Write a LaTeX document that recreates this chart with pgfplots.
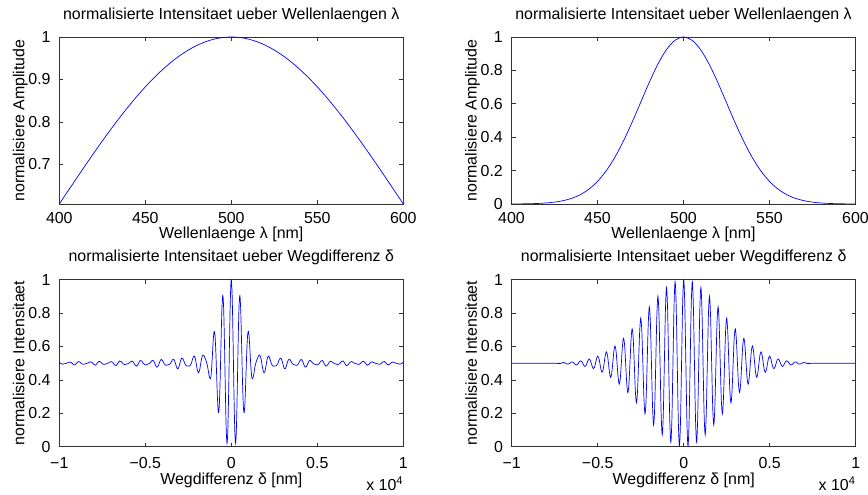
\documentclass[border=0pt]{standalone}
\usepackage{fontspec}
\setmainfont{Liberation Sans}
\usepackage{pgfplots}
\usepackage{pgfplotstable}
\pgfplotsset{compat=1.18}

\pgfplotstableread{
l S
400 0.6065
405 0.6368
410 0.6670
415 0.6968
420 0.7261
425 0.7549
430 0.7827
435 0.8096
440 0.8353
445 0.8596
450 0.8825
455 0.9037
460 0.9231
465 0.9406
470 0.9560
475 0.9692
480 0.9802
485 0.9888
490 0.9950
495 0.9988
500 1.0000
505 0.9988
510 0.9950
515 0.9888
520 0.9802
525 0.9692
530 0.9560
535 0.9406
540 0.9231
545 0.9037
550 0.8825
555 0.8596
560 0.8353
565 0.8096
570 0.7827
575 0.7549
580 0.7261
585 0.6968
590 0.6670
595 0.6368
600 0.6065
}\tla

\pgfplotstableread{
l S
400 0.0003
405 0.0007
410 0.0015
415 0.0031
420 0.0060
425 0.0111
430 0.0198
435 0.0340
440 0.0561
445 0.0889
450 0.1353
455 0.1979
460 0.2780
465 0.3753
470 0.4868
475 0.6065
480 0.7261
485 0.8353
490 0.9231
495 0.9802
500 1.0000
505 0.9802
510 0.9231
515 0.8353
520 0.7261
525 0.6065
530 0.4868
535 0.3753
540 0.2780
545 0.1979
550 0.1353
555 0.0889
560 0.0561
565 0.0340
570 0.0198
575 0.0111
580 0.0060
585 0.0031
590 0.0015
595 0.0007
600 0.0003
}\tra

\pgfplotstableread{
d I
-10000 0.5063
-9900 0.4975
-9800 0.4943
-9700 0.4966
-9600 0.4991
-9500 0.5028
-9400 0.5071
-9300 0.5042
-9200 0.4935
-9100 0.4894
-9000 0.4994
-8900 0.5100
-8800 0.5071
-8700 0.4973
-8600 0.4936
-8500 0.4960
-8400 0.4988
-8300 0.5031
-8200 0.5083
-8100 0.5049
-8000 0.4926
-7900 0.4878
-7800 0.4992
-7700 0.5115
-7600 0.5083
-7500 0.4970
-7400 0.4927
-7300 0.4953
-7200 0.4983
-7100 0.5035
-7000 0.5098
-6900 0.5060
-6800 0.4913
-6700 0.4854
-6600 0.4989
-6500 0.5134
-6400 0.5099
-6300 0.4967
-6200 0.4915
-6100 0.4942
-6000 0.4976
-5900 0.5041
-5800 0.5121
-5700 0.5076
-5600 0.4895
-5500 0.4821
-5400 0.4984
-5300 0.5163
-5200 0.5123
-5100 0.4964
-5000 0.4899
-4950 0.4908
-4900 0.4925
-4850 0.4942
-4800 0.4962
-4750 0.4996
-4700 0.5048
-4650 0.5111
-4600 0.5158
-4550 0.5161
-4500 0.5103
-4450 0.4993
-4400 0.4868
-4350 0.4779
-4300 0.4767
-4250 0.4840
-4200 0.4973
-4150 0.5113
-4100 0.5206
-4050 0.5221
-4000 0.5162
-3950 0.5062
-3900 0.4964
-3850 0.4900
-3800 0.4876
-3750 0.4881
-3700 0.4895
-3650 0.4910
-3600 0.4933
-3550 0.4979
-3500 0.5058
-3450 0.5152
-3400 0.5226
-3350 0.5236
-3300 0.5157
-3250 0.5002
-3200 0.4822
-3150 0.4691
-3100 0.4666
-3050 0.4764
-3000 0.4947
-2950 0.5144
-2900 0.5279
-2850 0.5308
-2800 0.5236
-2750 0.5106
-2700 0.4976
-2650 0.4886
-2600 0.4844
-2550 0.4832
-2500 0.4827
-2450 0.4826
-2400 0.4848
-2350 0.4924
-2300 0.5066
-2250 0.5243
-2200 0.5389
-2150 0.5424
-2100 0.5304
-2050 0.5046
-2000 0.4738
-1950 0.4497
-1900 0.4425
-1850 0.4553
-1800 0.4830
-1750 0.5144
-1700 0.5386
-1650 0.5490
-1600 0.5463
-1550 0.5360
-1500 0.5233
-1450 0.5095
-1400 0.4907
-1350 0.4632
-1300 0.4291
-1250 0.4100
-1200 0.4110
-1150 0.4598
-1100 0.5464
-1050 0.6375
-1000 0.6900
-950 0.6699
-900 0.5711
-850 0.4227
-800 0.2795
-750 0.2050
-700 0.2427
-650 0.3946
-600 0.6123
-550 0.8115
-500 0.9050
-450 0.8438
-400 0.6367
-350 0.3586
-300 0.1198
-250 0.0200
-200 0.1064
-150 0.3478
-100 0.6536
-50 0.9041
0 1.0000
50 0.9041
100 0.6536
150 0.3478
200 0.1064
250 0.0200
300 0.1198
350 0.3586
400 0.6367
450 0.8438
500 0.9050
550 0.8115
600 0.6123
650 0.3946
700 0.2427
750 0.2050
800 0.2795
850 0.4227
900 0.5711
950 0.6699
1000 0.6900
1050 0.6375
1100 0.5464
1150 0.4598
1200 0.4110
1250 0.4100
1300 0.4291
1350 0.4632
1400 0.4907
1450 0.5095
1500 0.5233
1550 0.5360
1600 0.5463
1650 0.5490
1700 0.5386
1750 0.5144
1800 0.4830
1850 0.4553
1900 0.4425
1950 0.4497
2000 0.4738
2050 0.5046
2100 0.5304
2150 0.5424
2200 0.5389
2250 0.5243
2300 0.5066
2350 0.4924
2400 0.4848
2450 0.4826
2500 0.4827
2550 0.4832
2600 0.4844
2650 0.4886
2700 0.4976
2750 0.5106
2800 0.5236
2850 0.5308
2900 0.5279
2950 0.5144
3000 0.4947
3050 0.4764
3100 0.4666
3150 0.4691
3200 0.4822
3250 0.5002
3300 0.5157
3350 0.5236
3400 0.5226
3450 0.5152
3500 0.5058
3550 0.4979
3600 0.4933
3650 0.4910
3700 0.4895
3750 0.4881
3800 0.4876
3850 0.4900
3900 0.4964
3950 0.5062
4000 0.5162
4050 0.5221
4100 0.5206
4150 0.5113
4200 0.4973
4250 0.4840
4300 0.4767
4350 0.4779
4400 0.4868
4450 0.4993
4500 0.5103
4550 0.5161
4600 0.5158
4650 0.5111
4700 0.5048
4750 0.4996
4800 0.4962
4850 0.4942
4900 0.4925
4950 0.4908
5000 0.4899
5100 0.4964
5200 0.5123
5300 0.5163
5400 0.4984
5500 0.4821
5600 0.4895
5700 0.5076
5800 0.5121
5900 0.5041
6000 0.4976
6100 0.4942
6200 0.4915
6300 0.4967
6400 0.5099
6500 0.5134
6600 0.4989
6700 0.4854
6800 0.4913
6900 0.5060
7000 0.5098
7100 0.5035
7200 0.4983
7300 0.4953
7400 0.4927
7500 0.4970
7600 0.5083
7700 0.5115
7800 0.4992
7900 0.4878
8000 0.4926
8100 0.5049
8200 0.5083
8300 0.5031
8400 0.4988
8500 0.4960
8600 0.4936
8700 0.4973
8800 0.5071
8900 0.5100
9000 0.4994
9100 0.4894
9200 0.4935
9300 0.5042
9400 0.5071
9500 0.5028
9600 0.4991
9700 0.4966
9800 0.4943
9900 0.4975
10000 0.5063
}\blt

\pgfplotstableread{
d I
-10000 0.5000
-7375 0.5000
-7312.5 0.4982
-7250 0.4972
-7187.5 0.4978
-7125 0.5000
-7062.5 0.5026
-7000 0.5040
-6937.5 0.5031
-6875 0.5000
-6812.5 0.4964
-6750 0.4944
-6687.5 0.4957
-6625 0.5000
-6562.5 0.5051
-6500 0.5078
-6437.5 0.5059
-6375 0.5000
-6312.5 0.4930
-6250 0.4894
-6187.5 0.4919
-6125 0.5000
-6062.5 0.5094
-6000 0.5144
-5937.5 0.5109
-5875 0.5000
-5812.5 0.4874
-5750 0.4808
-5687.5 0.4854
-5625 0.5000
-5562.5 0.5167
-5500 0.5253
-5437.5 0.5192
-5375 0.5000
-5312.5 0.4781
-5250 0.4670
-5187.5 0.4751
-5125 0.5000
-5062.5 0.5283
-5000 0.5425
-4937.5 0.5320
-4875 0.5000
-4812.5 0.4640
-4750 0.4459
-4687.5 0.4595
-4625 0.5000
-4562.5 0.5454
-4500 0.5679
-4437.5 0.5507
-4375 0.5000
-4312.5 0.4435
-4250 0.4157
-4187.5 0.4372
-4125 0.5000
-4062.5 0.5695
-4000 0.6033
-3937.5 0.5767
-3875 0.5000
-3812.5 0.4156
-3750 0.3750
-3687.5 0.4075
-3625 0.5000
-3562.5 0.6012
-3500 0.6494
-3437.5 0.6103
-3375 0.5000
-3312.5 0.3802
-3250 0.3235
-3187.5 0.3702
-3125 0.5000
-3062.5 0.6402
-3000 0.7058
-2937.5 0.6510
-2875 0.5000
-2812.5 0.3379
-2750 0.2628
-2687.5 0.3265
-2625 0.5000
-2562.5 0.6851
-2500 0.7700
-2437.5 0.6968
-2375 0.5000
-2312.5 0.2913
-2250 0.1965
-2187.5 0.2794
-2125 0.5000
-2062.5 0.7325
-2000 0.8370
-1937.5 0.7442
-1875 0.5000
-1812.5 0.2443
-1750 0.1303
-1687.5 0.2330
-1625 0.5000
-1562.5 0.7779
-1500 0.9006
-1437.5 0.7884
-1375 0.5000
-1312.5 0.2017
-1250 0.0714
-1187.5 0.1923
-1125 0.5000
-1062.5 0.8163
-1000 0.9531
-937.5 0.8242
-875 0.5000
-812.5 0.1687
-750 0.0270
-687.5 0.1625
-625 0.5000
-562.5 0.8427
-500 0.9879
-437.5 0.8469
-375 0.5000
-312.5 0.1498
-250 0.0031
-187.5 0.1477
-125 0.5000
-62.5 0.8534
0 1.0000
62.5 0.8534
125 0.5000
187.5 0.1477
250 0.0031
312.5 0.1498
375 0.5000
437.5 0.8469
500 0.9879
562.5 0.8427
625 0.5000
687.5 0.1625
750 0.0270
812.5 0.1687
875 0.5000
937.5 0.8242
1000 0.9531
1062.5 0.8163
1125 0.5000
1187.5 0.1923
1250 0.0714
1312.5 0.2017
1375 0.5000
1437.5 0.7884
1500 0.9006
1562.5 0.7779
1625 0.5000
1687.5 0.2330
1750 0.1303
1812.5 0.2443
1875 0.5000
1937.5 0.7442
2000 0.8370
2062.5 0.7325
2125 0.5000
2187.5 0.2794
2250 0.1965
2312.5 0.2913
2375 0.5000
2437.5 0.6968
2500 0.7700
2562.5 0.6851
2625 0.5000
2687.5 0.3265
2750 0.2628
2812.5 0.3379
2875 0.5000
2937.5 0.6510
3000 0.7058
3062.5 0.6402
3125 0.5000
3187.5 0.3702
3250 0.3235
3312.5 0.3802
3375 0.5000
3437.5 0.6103
3500 0.6494
3562.5 0.6012
3625 0.5000
3687.5 0.4075
3750 0.3750
3812.5 0.4156
3875 0.5000
3937.5 0.5767
4000 0.6033
4062.5 0.5695
4125 0.5000
4187.5 0.4372
4250 0.4157
4312.5 0.4435
4375 0.5000
4437.5 0.5507
4500 0.5679
4562.5 0.5454
4625 0.5000
4687.5 0.4595
4750 0.4459
4812.5 0.4640
4875 0.5000
4937.5 0.5320
5000 0.5425
5062.5 0.5283
5125 0.5000
5187.5 0.4751
5250 0.4670
5312.5 0.4781
5375 0.5000
5437.5 0.5192
5500 0.5253
5562.5 0.5167
5625 0.5000
5687.5 0.4854
5750 0.4808
5812.5 0.4874
5875 0.5000
5937.5 0.5109
6000 0.5144
6062.5 0.5094
6125 0.5000
6187.5 0.4919
6250 0.4894
6312.5 0.4930
6375 0.5000
6437.5 0.5059
6500 0.5078
6562.5 0.5051
6625 0.5000
6687.5 0.4957
6750 0.4944
6812.5 0.4964
6875 0.5000
6937.5 0.5031
7000 0.5040
7062.5 0.5026
7125 0.5000
7187.5 0.4978
7250 0.4972
7312.5 0.4982
7375 0.5000
10000 0.5000
}\brt

\begin{document}
\begin{tikzpicture}
\path[use as bounding box] (0bp,0bp) rectangle (868bp,495bp);
\pgfplotsset{
  mat/.style={
    scale only axis, width=344bp, height=167bp, anchor=south west,
    axis line style={black!80, line width=0.6bp},
    tick style={black!80, line width=0.6bp},
    tick align=inside, major tick length=4bp,
    xtick pos=both, ytick pos=both,
    tick label style={font=\fontsize{16}{18}\selectfont},
    label style={font=\fontsize{16}{18}\selectfont},
    title style={font=\fontsize{16}{18}\selectfont, at={(axis description cs:0.5,1)}, anchor=base, yshift=12bp},
    yticklabel style={anchor=east, inner sep=0pt, xshift=-8.5bp},
    ylabel style={at={(axis description cs:-0.1015,0.5)}, anchor=base},
    /pgf/number format/assume math mode=true,
    scaled ticks=false,
  },
  toprow/.style={
    xmin=400, xmax=600,
    xtick={400,450,500,550,600}, xticklabels={400,450,500,550,600},
    xticklabel style={anchor=base, inner sep=0pt, yshift=-19.5bp},
    xlabel style={at={(axis description cs:0.5,0)}, anchor=base, yshift=-34.5bp},
    title={normalisierte Intensitaet ueber Wellenlaengen λ},
    xlabel={Wellenlaenge λ [nm]},
    ylabel={normalisiere Amplitude},
  },
  botrow/.style={
    xmin=-10000, xmax=10000, ymin=0, ymax=1,
    xtick={-10000,-5000,0,5000,10000}, xticklabels={−1,−0.5,0,0.5,1},
    ytick={0,0.2,0.4,0.6,0.8,1}, yticklabels={0,0.2,0.4,0.6,0.8,1},
    xticklabel style={anchor=base, inner sep=0pt, yshift=-21.5bp},
    xlabel style={at={(axis description cs:0.5,0)}, anchor=base, yshift=-37.5bp},
    title={normalisierte Intensitaet ueber Wegdifferenz δ},
    xlabel={Wegdifferenz δ [nm]},
    ylabel={normalisiere Intensitaet},
    extra description/.code={\node[anchor=base east, inner sep=0pt, font=\fontsize{16}{18}\selectfont] at (1,-0.262) {x 10\textsuperscript{4}};},
  },
}
\begin{axis}[mat, toprow, at={(59.3bp,291bp)}, ymin=0.6065, ymax=1,
  ytick={0.7,0.8,0.9,1}, yticklabels={0.7,0.8,0.9,1}]
\addplot[blue, line width=0.7bp, smooth] table[x=l, y=S] {\tla};
\end{axis}
\begin{axis}[mat, toprow, at={(511.5bp,291bp)}, ymin=0, ymax=1,
  ytick={0,0.2,0.4,0.6,0.8,1}, yticklabels={0,0.2,0.4,0.6,0.8,1}]
\addplot[blue, line width=0.7bp, smooth] table[x=l, y=S] {\tra};
\end{axis}
\begin{axis}[mat, botrow, at={(59.3bp,48.3bp)}]
\addplot[blue, line width=0.7bp, smooth] table[x=d, y=I] {\blt};
\end{axis}
\begin{axis}[mat, botrow, at={(511.7bp,48.3bp)}]
\addplot[blue, line width=0.7bp, smooth] table[x=d, y=I] {\brt};
\end{axis}
\end{tikzpicture}
\end{document}
